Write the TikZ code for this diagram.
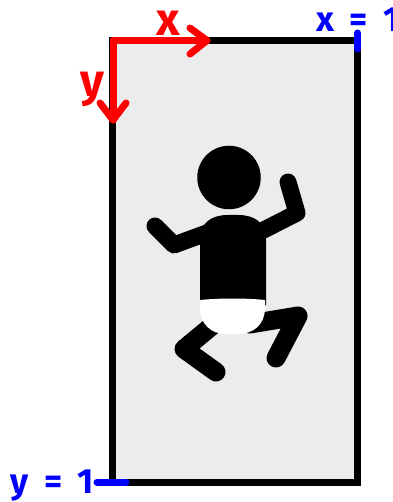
\documentclass[tikz,border=0pt]{standalone}
\usepackage{fontspec}
\setmainfont{Fira Sans}
\newfontfamily\tickfont[WordSpace=1.9]{Fira Sans}
\usepackage{xcolor}
\usetikzlibrary{positioning, calc}
\definecolor{axisred}{RGB}{255,0,0}
\definecolor{tickblue}{RGB}{0,0,255}
\definecolor{cribgray}{RGB}{236,236,236}

\begin{document}
\begin{tikzpicture}[
    x=1pt, y=-1pt,
    crib/.style={draw=black, fill=cribgray, line width=7pt, miter limit=4},
    axis/.style={draw=axisred, line width=7pt, line cap=round, line join=round},
    tick/.style={draw=tickblue, line width=7pt, line cap=round},
    limb/.style={draw=black, line width=17pt, line cap=round, line join=round},
    axislabel/.style={text=axisred, font=\fontsize{46}{46}\bfseries\selectfont, inner sep=0pt},
    ticklabel/.style={text=tickblue, font=\tickfont\fontsize{35}{35}\bfseries\selectfont, inner sep=0pt},
]
\useasboundingbox (0,0) rectangle (392,502);
% Crib
\draw[crib] (112.5,40.5) rectangle (357.5,482);
% Baby: arms and legs
\draw[limb] (155,226) -- (174,245) -- (215,230);
\draw[limb] (288,182) -- (297,213) -- (250,237);
\draw[limb, line width=19pt] (225,315) -- (184,349) -- (216,372);
\draw[limb, line width=19pt] (250,324) -- (298,316) -- (276,358);
% Baby: head and body
\node[circle, fill=black, minimum size=63.5pt, inner sep=0pt] (head) at (229,177.5) {};
\fill[black] (200,305) -- (200,240) .. controls (200,222) and (212,215) .. (228,215)
    -- (238,215) .. controls (254,215) and (266,222) .. (266,240) -- (266,305) -- cycle;
\fill[white] (200,300) .. controls (220,298) and (246,298) .. (265,300)
    -- (265,308) .. controls (265,324) and (254,334) .. (238,334)
    -- (226,334) .. controls (211,334) and (200,324) .. (200,308) -- cycle;
% Axes
\coordinate (corner) at (113,40.5);
\coordinate (xtip) at (207,40.5);
\coordinate (ytip) at (113,120);
\draw[axis] (corner) -- (xtip);
\draw[axis] (corner) -- (ytip);
\draw[axis] (190,28) -- (xtip) -- (190,54);
\draw[axis] (100,103) -- (ytip) -- (126,103);
\node[axislabel] (xaxis) at (168,23) {x};
\node[axislabel] (yaxis) at (92,89) {y};
% Limits
\draw[tick] (357.5,33) -- (357.5,49);
\draw[tick] (97,482) -- (126,482);
\node[ticklabel, anchor=base west] (xone) at (316,32) {x = 1};
\node[ticklabel, anchor=base west] (yone) at (10,493) {y = 1};
\end{tikzpicture}
\end{document}
